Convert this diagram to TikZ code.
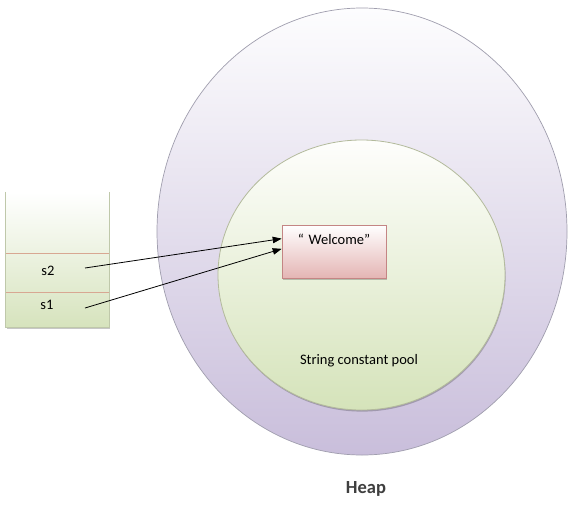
\documentclass[tikz,border=0pt]{standalone}
\usepackage{fontspec}
\setmainfont{Carlito}
\usetikzlibrary{arrows.meta,calc,shapes.geometric,shadows}
\definecolor{heapbot}{HTML}{C9BEDB}
\definecolor{heaptop}{HTML}{FDFDFE}
\definecolor{heapline}{HTML}{A09EAE}
\definecolor{poolbot}{HTML}{D5E3BA}
\definecolor{pooltop}{HTML}{FEFEFC}
\definecolor{poolline}{HTML}{B3BA9C}
\definecolor{welbot}{HTML}{E4B5B4}
\definecolor{welline}{HTML}{C48584}
\definecolor{stackbot}{HTML}{D6E3BD}
\definecolor{stackline}{HTML}{BFC8AA}
\definecolor{cellline}{HTML}{D8A792}
\definecolor{heaptext}{HTML}{3F3F3F}
\tikzset{
  txt/.style={font=\fontsize{14.5}{17}\selectfont, text=black, inner sep=0pt},
  softshadow/.style={drop shadow={shadow xshift=0.6pt, shadow yshift=-1.6pt, opacity=0.22, fill=black}},
  ptr/.style={draw=black, line width=0.8pt, -{Triangle[length=9pt,width=6.5pt]}},
}
\begin{document}
\begin{tikzpicture}[x=1pt,y=-1pt]
\useasboundingbox (0,0) rectangle (577,512);
\fill[white] (0,0) rectangle (577,512);
% heap
\node[ellipse, minimum width=410pt, minimum height=447pt, inner sep=0pt,
      top color=heaptop, bottom color=heapbot, draw=heapline, line width=0.7pt]
      (heap) at (362,231.5) {};
% string pool
\node[ellipse, minimum width=287pt, minimum height=270pt, inner sep=0pt,
      top color=pooltop, bottom color=poolbot, draw=poolline, line width=0.8pt, softshadow]
      (pool) at (361.5,275) {};
\node[txt] (pooltext) at (359,361) {String constant pool};
% welcome box
\node[rectangle, minimum width=104pt, inner xsep=0pt, inner ysep=4.5pt,
      text height=15pt, text depth=29pt, text width=104pt, align=center,
      top color=white, bottom color=welbot, draw=welline, line width=0.6pt, softshadow,
      font=\fontsize{14.5}{17}\selectfont]
      (welcome) at (334,251.5) {“ Welcome”};
% stack
\node[rectangle, minimum width=103pt, minimum height=135pt, inner sep=0pt,
      top color=white, bottom color=stackbot, draw=none, softshadow]
      (stack) at (57.5,259.5) {};
\draw[stackline, line width=0.8pt] (stack.north west) -- (stack.south west) -- (stack.south east) -- (stack.north east);
\coordinate (c1w) at (6,253);
\coordinate (c1e) at (109,253);
\coordinate (c2w) at (6,292);
\coordinate (c2e) at (109,292);
\draw[cellline, line width=0.8pt] (c1w) -- (c1e);
\draw[cellline, line width=0.8pt] (c2w) -- (c2e);
\node[txt] (s2) at (48,271) {s2};
\node[txt] (s1) at (47,305) {s1};
\coordinate (s2ptr) at (85,268);
\coordinate (s1ptr) at (85,308);
% pointers
\draw[ptr] (s2ptr) -- ($(welcome.north west)!0.26!(welcome.south west)$);
\draw[ptr] (s1ptr) -- ($(welcome.north west)!0.45!(welcome.south west)$);
% label
\node[inner sep=0pt, text=heaptext, font=\fontsize{18.5}{22}\selectfont\bfseries] (heaplabel) at (366,489) {Heap};
\end{tikzpicture}
\end{document}
